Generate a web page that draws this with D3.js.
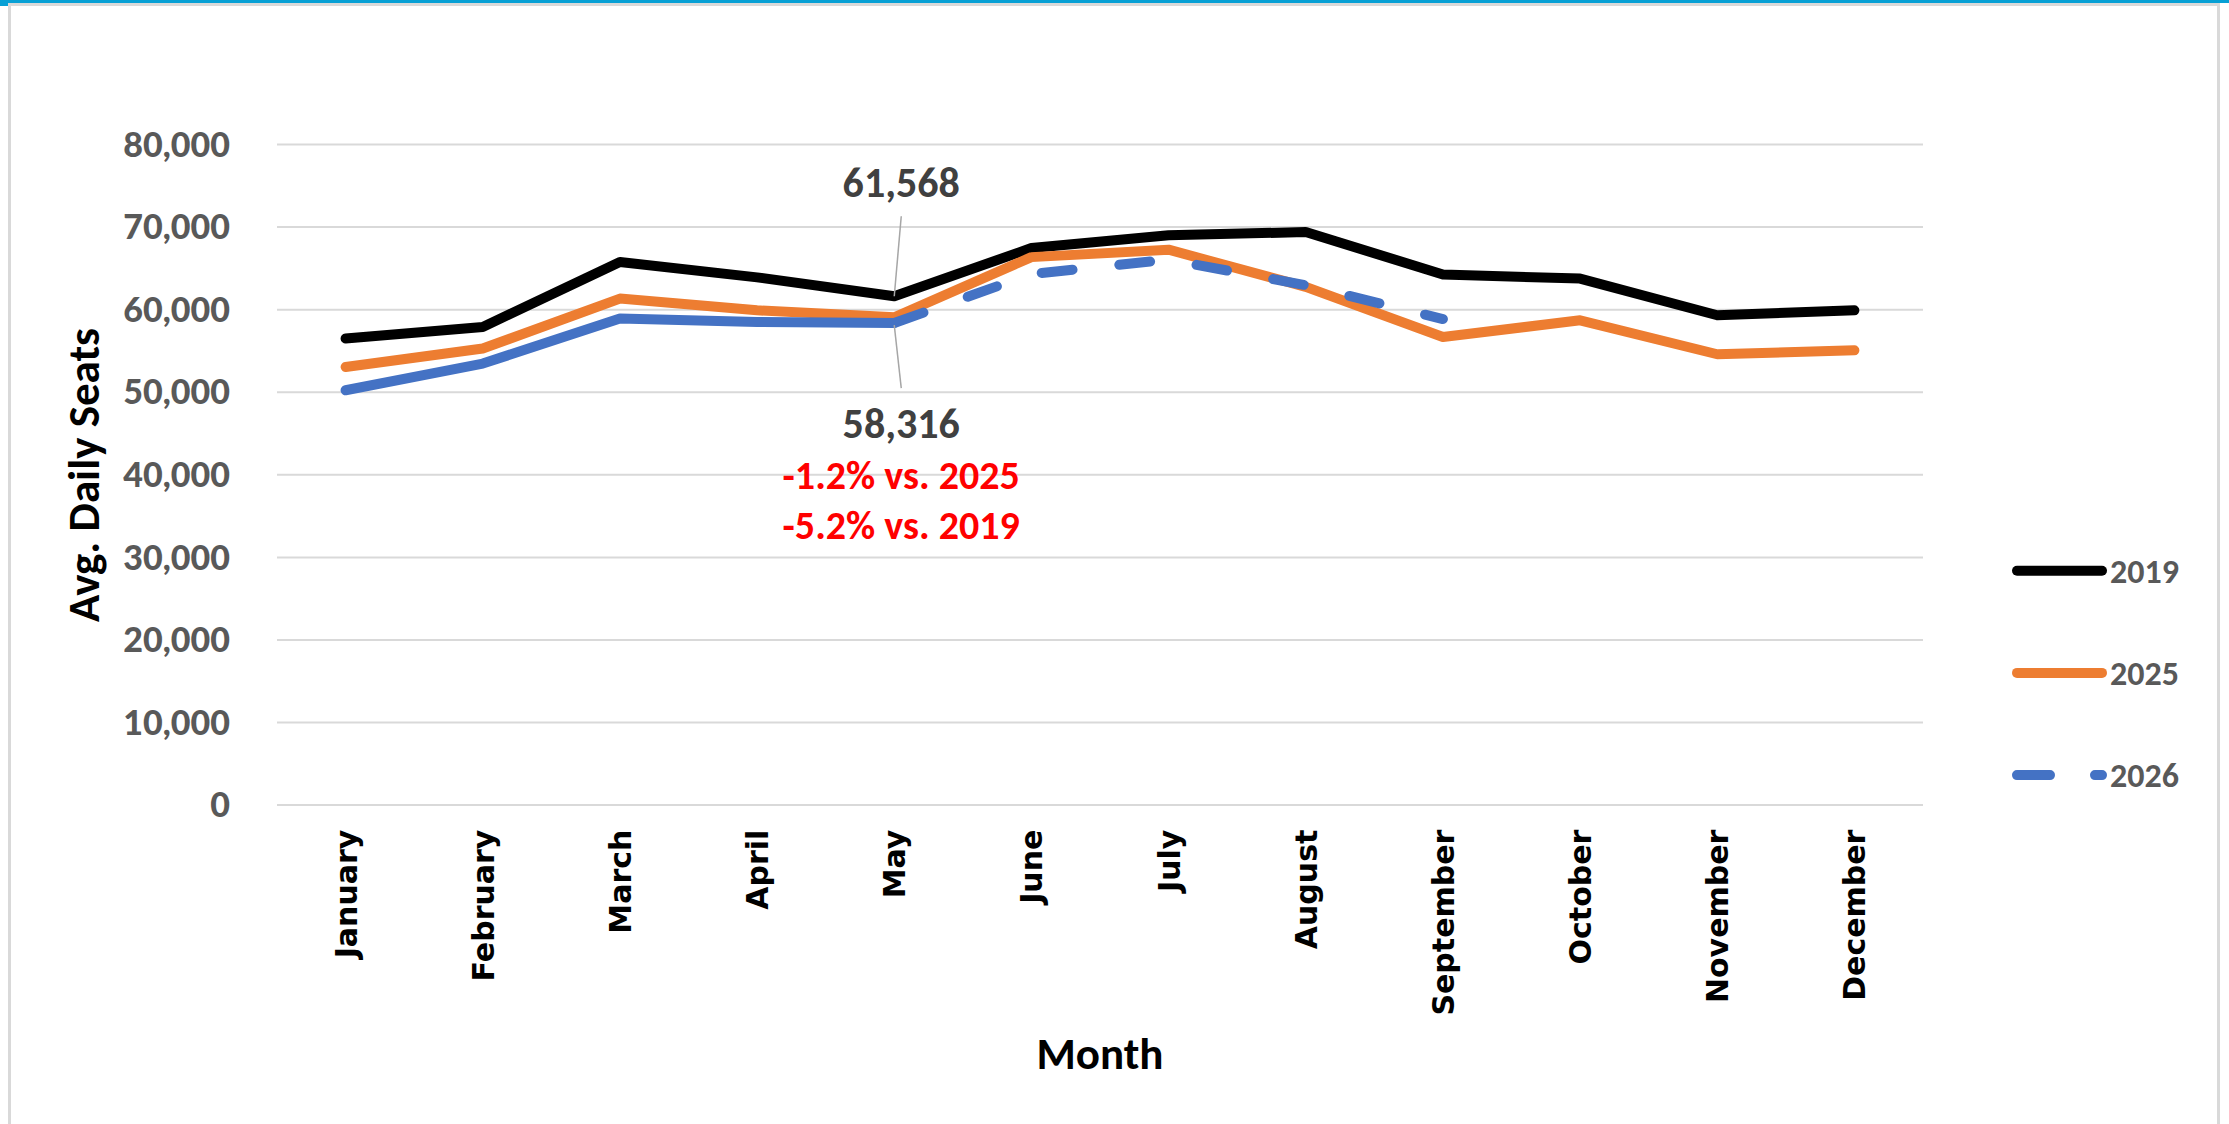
<!DOCTYPE html>
<html>
<head>
<meta charset="utf-8">
<script src="https://cdn.jsdelivr.net/npm/d3@7"></script>
<style>
  body { margin: 0; background: #fff; }
  svg { display: block; }
</style>
</head>
<body>
<div id="chart"></div>
<script>

var months = ['January', 'February', 'March', 'April', 'May', 'June',
  'July', 'August', 'September', 'October', 'November', 'December'];

var seats2019 = [56440, 57840, 65710, 63850, 61568, 67400, 68940, 69340, 64200, 63700, 59260, 59860];
var seats2025 = [53000, 55230, 61280, 59860, 59024, 66300, 67200, 62700, 56630, 58650, 54540, 55020];
var seats2026 = [50180, 53410, 58860, 58450, 58316, 64250, 66000, 62900, 58800];

// 2026 is actual through May, forecast after that
var lastActual = 'May';

var yTicks = [0, 10000, 20000, 30000, 40000, 50000, 60000, 70000, 80000];

var seriesNames = ['2019', '2025', '2026'];
var seriesColors = ['#000000', '#ED7D31', '#4472C4'];

var calloutTop = '61,568';
var calloutBottom = '58,316';
var calloutNotes = ['-1.2% vs. 2025', '-5.2% vs. 2019'];

var width = 2229, height = 1124;
var titleFont = 'Calibri, Carlito, Lato, sans-serif';
var tickFont = '"DejaVu Sans", Verdana, sans-serif';

var svg = d3.select('#chart')
  .append('svg')
    .attr('width', width)
    .attr('height', height);

// FRAME

svg.append('rect')
  .attr('width', width)
  .attr('height', height)
  .attr('fill', '#ffffff');

svg.append('rect').attr('x', 0).attr('y', 0).attr('width', width).attr('height', 3).attr('fill', '#07a0d5');
svg.append('rect').attr('x', 0).attr('y', 0).attr('width', 8).attr('height', 6).attr('fill', '#07a0d5');
svg.append('rect').attr('x', 8).attr('y', 3).attr('width', 2212).attr('height', 3).attr('fill', '#d9d9d9');
svg.append('rect').attr('x', 8).attr('y', 3).attr('width', 3).attr('height', height).attr('fill', '#d9d9d9');
svg.append('rect').attr('x', 2217).attr('y', 3).attr('width', 3).attr('height', height).attr('fill', '#d9d9d9');

// SCALES

var x = d3.scalePoint()
  .domain(months)
  .range([277, 1923])
  .padding(0.5);

var y = d3.scaleLinear()
  .domain([0, 80000])
  .range([804.6, 144]);

// GRID + Y AXIS

var yAxis = svg.append('g')
  .attr('class', 'y-axis')
  .attr('transform', 'translate(277,0)')
  .call(d3.axisLeft(y)
    .tickValues(yTicks)
    .tickSize(-1646)
    .tickPadding(47)
    .tickFormat(d3.format(',')));

yAxis.select('.domain').remove();
yAxis.selectAll('.tick line')
  .attr('stroke', '#d9d9d9')
  .attr('stroke-width', 2);
yAxis.selectAll('.tick text')
  .attr('fill', '#595959')
  .attr('font-family', 'Lato, sans-serif')
  .attr('font-weight', 900)
  .attr('font-size', 34)
  .attr('dy', '0.36em');

// X AXIS LABELS

var xAxis = svg.append('g')
  .attr('class', 'x-axis')
  .attr('transform', 'translate(0,804.6)')
  .call(d3.axisBottom(x).tickSize(0).tickPadding(0));

xAxis.select('.domain').remove();
xAxis.selectAll('.tick text')
  .attr('fill', '#000000')
  .attr('font-family', tickFont)
  .attr('font-weight', 'bold')
  .attr('font-size', 30)
  .attr('text-anchor', 'end')
  .attr('transform', 'translate(0,25) rotate(-90)')
  .attr('x', 0)
  .attr('y', 0)
  .attr('dy', '0.35em');

// AXIS TITLES

svg.append('text')
  .text('Avg. Daily Seats')
  .attr('transform', 'translate(99,475) rotate(-90)')
  .attr('text-anchor', 'middle')
  .attr('font-family', titleFont)
  .attr('font-weight', 'bold')
  .attr('font-size', 45)
  .attr('fill', '#000000');

svg.append('text')
  .text('Month')
  .attr('x', 1100)
  .attr('y', 1069)
  .attr('text-anchor', 'middle')
  .attr('font-family', titleFont)
  .attr('font-weight', 'bold')
  .attr('font-size', 45)
  .attr('fill', '#000000');

// LINES

var line = d3.line()
  .x(function(d) { return x(d.month); })
  .y(function(d) { return y(d.value); });

function toPoints(values) {
  return values.map(function(v, i) { return { month: months[i], value: v }; });
}

var pts2019 = toPoints(seats2019);
var pts2025 = toPoints(seats2025);
var pts2026 = toPoints(seats2026);
var split = months.indexOf(lastActual);

var paths = [
  { pts: pts2019, color: seriesColors[0], dash: null },
  { pts: pts2025, color: seriesColors[1], dash: null },
  { pts: pts2026.slice(split), color: seriesColors[2], dash: '31,47' },
  { pts: pts2026.slice(0, split + 1), color: seriesColors[2], dash: null }
];

svg.selectAll('path.series')
  .data(paths)
  .enter().append('path')
    .attr('class', 'series')
    .attr('d', function(d) { return line(d.pts); })
    .attr('fill', 'none')
    .attr('stroke', function(d) { return d.color; })
    .attr('stroke-width', 10)
    .attr('stroke-linecap', 'round')
    .attr('stroke-linejoin', 'round')
    .attr('stroke-dasharray', function(d) { return d.dash; });

// CALLOUTS

var mx = x(lastActual);
var topY = y(seats2019[split]);
var botY = y(seats2026[split]);

svg.append('line')
  .attr('x1', mx + 7).attr('y1', topY - 80)
  .attr('x2', mx).attr('y2', topY)
  .attr('stroke', '#a6a6a6')
  .attr('stroke-width', 1.5);

svg.append('line')
  .attr('x1', mx).attr('y1', botY + 2)
  .attr('x2', mx + 7).attr('y2', botY + 65)
  .attr('stroke', '#a6a6a6')
  .attr('stroke-width', 1.5);

svg.append('text')
  .text(calloutTop)
  .attr('x', mx + 7)
  .attr('y', topY - 99)
  .attr('text-anchor', 'middle')
  .attr('font-family', titleFont)
  .attr('font-weight', 900)
  .attr('font-size', 42)
  .attr('fill', '#404040');

svg.append('text')
  .text(calloutBottom)
  .attr('x', mx + 7)
  .attr('y', botY + 115)
  .attr('text-anchor', 'middle')
  .attr('font-family', titleFont)
  .attr('font-weight', 900)
  .attr('font-size', 42)
  .attr('fill', '#404040');

svg.selectAll('text.note')
  .data(calloutNotes)
  .enter().append('text')
    .attr('class', 'note')
    .text(function(d) { return d; })
    .attr('x', mx + 7)
    .attr('y', function(d, i) { return botY + 166 + i * 50; })
    .attr('text-anchor', 'middle')
    .attr('font-family', titleFont)
    .attr('font-weight', 'bold')
    .attr('font-size', 40)
    .attr('fill', '#ff0000');

// LEGEND

var legend = svg.selectAll('g.legend')
  .data(seriesNames)
  .enter().append('g')
    .attr('class', 'legend')
    .attr('transform', function(d, i) { return 'translate(2017,' + (570.7 + i * 102.2) + ')'; });

legend.append('line')
  .attr('x1', 0)
  .attr('x2', 85)
  .attr('stroke', function(d, i) { return seriesColors[i]; })
  .attr('stroke-width', 10)
  .attr('stroke-linecap', 'round')
  .attr('stroke-dasharray', function(d, i) { return i == 2 ? '33,45' : null; });

legend.append('text')
  .text(function(d) { return d; })
  .attr('x', 93)
  .attr('dy', '0.36em')
  .attr('font-family', titleFont)
  .attr('font-weight', 'bold')
  .attr('font-size', 34)
  .attr('fill', '#595959');

</script>
</body>
</html>
